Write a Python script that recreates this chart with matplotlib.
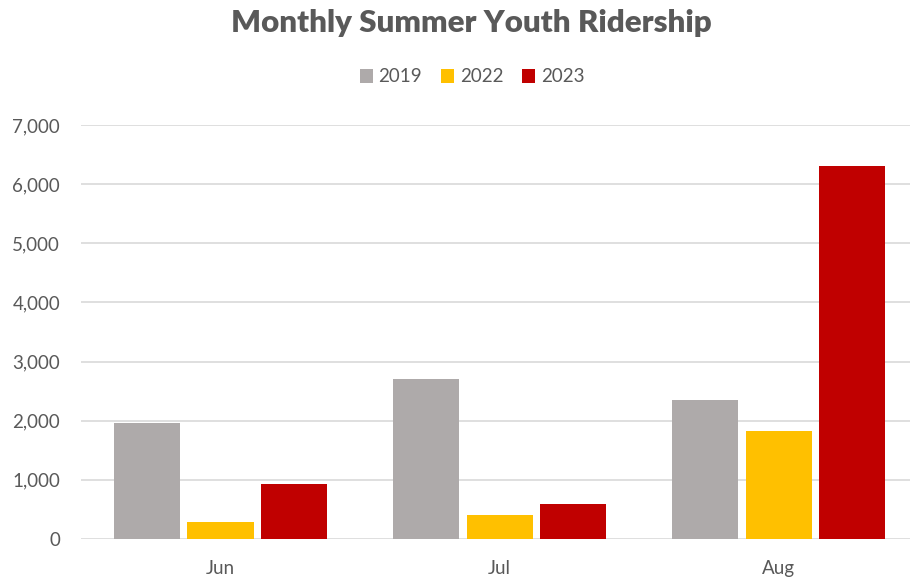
import matplotlib.pyplot as plt
import numpy as np

months = ["Jun", "Jul", "Aug"]
years = ["2019", "2022", "2023"]
riders_2019 = [1955, 2710, 2350]
riders_2022 = [285, 400, 1825]
riders_2023 = [925, 590, 6315]

colours = ["#AEAAAA", "#FFC000", "#C00000"]
text_col = "#595959"
plt.rcParams['font.family'] = ['Lato', 'DejaVu Sans']

fig = plt.figure(figsize=(9.1, 5.77), dpi=100)
ax = fig.add_axes([81 / 910, 38 / 577, 1 - 81 / 910, 414 / 577])

x = np.arange(len(months))
width = 0.237
step = 0.263
series = [riders_2019, riders_2022, riders_2023]
for i in range(len(series)):
    ax.bar(x + (i - 1) * step, series[i], width, color=colours[i],
           label=years[i], zorder=3)

ax.set_ylim(0, 7000)
ax.set_xlim(-0.5, 2.47)
ax.set_yticks(range(0, 7001, 1000))
ax.set_yticklabels(["{:,}".format(v) for v in range(0, 7001, 1000)])
ax.set_xticks(x)
ax.set_xticklabels(months)
ax.grid(axis='y', color="#D9D9D9", linewidth=1.2, zorder=0)
for s in ["top", "right", "left", "bottom"]:
    ax.spines[s].set_visible(False)
ax.tick_params(axis='both', length=0, colors=text_col, labelsize=13.5)
ax.tick_params(axis='y', pad=15)
ax.tick_params(axis='x', pad=15)

fig.text(0.518, 0.960, "Monthly Summer Youth Ridership", ha='center', va='center',
         fontsize=22.5, fontweight='heavy', color=text_col)
ax.legend(loc='center', bbox_to_anchor=(472 / 910, 1 - 77 / 577),
          bbox_transform=fig.transFigure, ncol=3, frameon=False,
          fontsize=13.5, labelcolor=text_col, handlelength=0.7, handleheight=0.7,
          handletextpad=0.3, columnspacing=1.0)

plt.savefig("out.png", format="png")
